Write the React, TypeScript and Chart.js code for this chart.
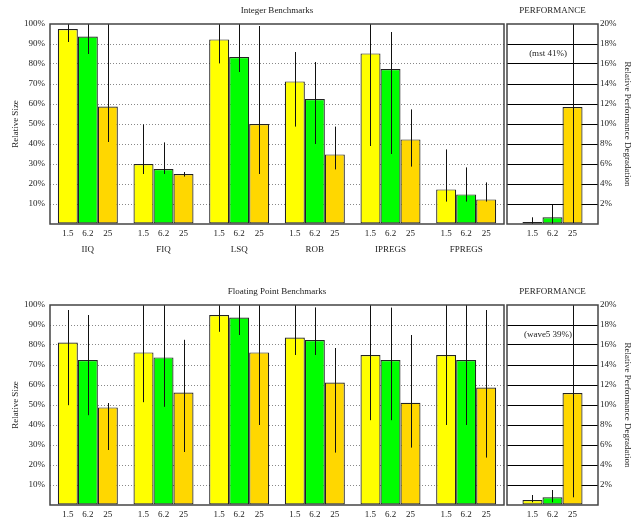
import React, { useEffect, useRef } from 'react';
import { Chart, registerables } from 'chart.js';

Chart.register(...registerables);

const FONT = "'Liberation Serif', 'Times New Roman', serif";

// ---------- data ----------
const groupLabels = ['IIQ', 'FIQ', 'LSQ', 'ROB', 'IPREGS', 'FPREGS'];
const sizeLabels = ['1.5', '6.2', '25'];
const barColors = ['#ffff00', '#00ff00', '#ffd700'];

// Integer benchmarks: relative size (%)
const intSize15 = [97.5, 30, 92.3, 71.3, 85.3, 17.3];
const intSize62 = [93.7, 27.5, 83.5, 62.5, 77.5, 14.8];
const intSize25 = [58.7, 25, 50, 34.8, 42.3, 12.3];
const intLow15 = [91, 25, 80.3, 48.7, 39, 11.2];
const intHigh15 = [105, 49.8, 105, 86, 105, 37.3];
const intLow62 = [85, 25, 76, 40, 35, 11.2];
const intHigh62 = [105, 40.8, 105, 81, 96, 28.3];
const intLow25 = [41, 23.7, 25, 27.3, 28.7, 11.2];
const intHigh25 = [105, 26, 99, 48.7, 57.3, 20.8];

// Integer performance degradation (%)
const intPerf = [0.2, 0.67, 11.7];
const intPerfLow = [0, 0, 0.1];
const intPerfHigh = [0.67, 1.9, 25];

// Floating point benchmarks: relative size (%)
const fpSize15 = [81.2, 76.3, 95, 83.7, 75, 75];
const fpSize62 = [72.5, 73.8, 93.7, 82.5, 72.5, 72.5];
const fpSize25 = [48.8, 56.2, 76.3, 61.2, 51.1, 58.7];
const fpLow15 = [49.9, 51.4, 86.6, 75, 42.4, 40];
const fpHigh15 = [97.5, 105, 105, 105, 105, 105];
const fpLow62 = [44.9, 49.1, 85, 75, 42.4, 40];
const fpHigh62 = [95, 105, 105, 98.8, 98.7, 105];
const fpLow25 = [27.5, 26.5, 40, 26.2, 28.7, 23.7];
const fpHigh25 = [51, 82.6, 105, 78.5, 85, 97.5];

// Floating point performance degradation (%)
const fpPerf = [0.5, 0.77, 11.2];
const fpPerfLow = [0.27, 0.27, 0.77];
const fpPerfHigh = [1.0, 1.5, 25];

const sizeTicks = [10, 20, 30, 40, 50, 60, 70, 80, 90, 100];
const perfTicks = [2, 4, 6, 8, 10, 12, 14, 16, 18, 20];

// ---------- plugins ----------
const panelPlugin = {
  id: 'panelDeco',
  afterDatasetsDraw(chart: any) {
    const { ctx, chartArea } = chart;
    const y = chart.scales.y;
    ctx.save();
    ctx.beginPath();
    ctx.rect(chartArea.left, chartArea.top, chartArea.right - chartArea.left, chartArea.bottom - chartArea.top);
    ctx.clip();
    ctx.strokeStyle = '#111';
    ctx.lineWidth = 1;
    chart.data.datasets.forEach((ds: any, i: number) => {
      const meta = chart.getDatasetMeta(i);
      meta.data.forEach((el: any, j: number) => {
        const x = Math.round(el.x) + 0.5;
        ctx.beginPath();
        ctx.moveTo(x, y.getPixelForValue(ds.errLow[j]));
        ctx.lineTo(x, y.getPixelForValue(ds.errHigh[j]));
        ctx.stroke();
      });
    });
    ctx.restore();
  },
  afterDraw(chart: any, _args: any, opts: any) {
    const { ctx, chartArea } = chart;
    ctx.save();
    // panel border
    ctx.strokeStyle = '#444';
    ctx.lineWidth = 1.5;
    ctx.strokeRect(chartArea.left, chartArea.top, chartArea.right - chartArea.left, chartArea.bottom - chartArea.top);
    ctx.fillStyle = '#222';
    ctx.font = `9px ${FONT}`;
    ctx.textAlign = 'center';
    ctx.textBaseline = 'middle';
    // title
    ctx.fillText(opts.title, (chartArea.left + chartArea.right) / 2, chartArea.top - 13);
    // per-bar labels
    chart.data.datasets.forEach((ds: any, i: number) => {
      const meta = chart.getDatasetMeta(i);
      meta.data.forEach((el: any) => {
        ctx.fillText(ds.label, el.x, chartArea.bottom + 10);
      });
    });
    if (opts.note) {
      const y = chart.scales.y;
      ctx.fillText(opts.note, chartArea.left + 41, y.getPixelForValue(opts.noteValue));
    }
    ctx.restore();
  },
};

function sizeConfig(title: string, s: number[][], lo: number[][], hi: number[][]): any {
  return {
    type: 'bar',
    data: {
      labels: groupLabels,
      datasets: sizeLabels.map((lab, i) => ({
        label: lab,
        data: s[i],
        errLow: lo[i],
        errHigh: hi[i],
        backgroundColor: barColors[i],
        borderColor: '#222',
        borderWidth: 1.2,
        borderSkipped: false,
        categoryPercentage: 0.793,
        barPercentage: 1,
      })),
    },
    options: {
      responsive: false,
      maintainAspectRatio: false,
      animation: false,
      events: [],
      layout: { padding: { top: 24, right: 2, left: 0, bottom: 0 } },
      plugins: {
        legend: { display: false },
        tooltip: { enabled: false },
        panelDeco: { title },
      },
      scales: {
        x: {
          grid: { display: false },
          border: { display: false },
          ticks: { padding: 12, color: '#222', font: { size: 9, family: FONT } },
          afterFit: (sc: any) => { sc.height = 36; },
        },
        y: {
          min: 0,
          max: 100,
          afterBuildTicks: (sc: any) => { sc.ticks = [0, ...sizeTicks].map((v) => ({ value: v })); },
          ticks: {
            padding: 5,
            color: '#222',
            font: { size: 9, family: FONT },
            callback: (v: any) => (v === 0 ? '' : v + '%'),
          },
          grid: {
            drawTicks: false,
            color: (c: any) => (c.tick && (c.tick.value === 0 || c.tick.value === 100) ? 'rgba(0,0,0,0)' : '#888'),
            lineWidth: 1,
          },
          border: { display: false, dash: [1, 2] },
          title: {
            display: true,
            text: 'Relative Size',
            color: '#222',
            font: { size: 9, family: FONT },
            padding: { top: 10, bottom: 0 },
          },
          afterFit: (sc: any) => { sc.width = 50; },
        },
      },
    },
  };
}

function perfConfig(title: string, note: string, v: number[], lo: number[], hi: number[]): any {
  return {
    type: 'bar',
    data: {
      labels: [''],
      datasets: sizeLabels.map((lab, i) => ({
        label: lab,
        data: [v[i]],
        errLow: [lo[i]],
        errHigh: [hi[i]],
        backgroundColor: barColors[i],
        borderColor: '#222',
        borderWidth: 1.2,
        borderSkipped: false,
        categoryPercentage: 0.66,
        barPercentage: 1,
      })),
    },
    options: {
      responsive: false,
      maintainAspectRatio: false,
      animation: false,
      events: [],
      layout: { padding: { top: 24, right: 0, left: 2, bottom: 0 } },
      plugins: {
        legend: { display: false },
        tooltip: { enabled: false },
        panelDeco: { title, note, noteValue: 17 },
      },
      scales: {
        x: {
          grid: { display: false },
          border: { display: false },
          ticks: { display: false },
          afterFit: (sc: any) => { sc.height = 36; },
        },
        y: {
          position: 'right',
          min: 0,
          max: 20,
          afterBuildTicks: (sc: any) => { sc.ticks = [0, ...perfTicks].map((t) => ({ value: t })); },
          ticks: {
            padding: 2,
            color: '#222',
            font: { size: 9, family: FONT },
            callback: (t: any) => (t === 0 ? '' : t + '%'),
          },
          grid: {
            drawTicks: false,
            color: (c: any) => (c.tick && (c.tick.value === 0 || c.tick.value === 20) ? 'rgba(0,0,0,0)' : '#000'),
            lineWidth: 1,
          },
          border: { display: false },
          title: {
            display: true,
            text: 'Relative Performance Degradation',
            color: '#222',
            font: { size: 9, family: FONT },
            padding: { top: 3, bottom: 0 },
          },
          afterFit: (sc: any) => { sc.width = 38; },
        },
      },
    },
  };
}

function ChartCanvas({ config, left, top, width, height }: any) {
  const ref = useRef<HTMLCanvasElement | null>(null);
  useEffect(() => {
    if (!ref.current) return;
    const chart = new Chart(ref.current, { ...config, plugins: [panelPlugin] });
    return () => chart.destroy();
  }, []);
  return (
    <canvas
      ref={ref}
      width={width}
      height={height}
      style={{ position: 'absolute', left, top, width, height }}
    />
  );
}

export default function App() {
  const intCfg = sizeConfig('Integer Benchmarks', [intSize15, intSize62, intSize25], [intLow15, intLow62, intLow25], [intHigh15, intHigh62, intHigh25]);
  const fpCfg = sizeConfig('Floating Point Benchmarks', [fpSize15, fpSize62, fpSize25], [fpLow15, fpLow62, fpLow25], [fpHigh15, fpHigh62, fpHigh25]);
  const intPerfCfg = perfConfig('PERFORMANCE', '(mst 41%)', intPerf, intPerfLow, intPerfHigh);
  const fpPerfCfg = perfConfig('PERFORMANCE', '(wave5 39%)', fpPerf, fpPerfLow, fpPerfHigh);
  return (
    <div
      style={{
        position: 'absolute',
        left: 0,
        top: 0,
        width: 636,
        height: 527,
        overflow: 'hidden',
        background: '#fff',
      }}
    >
      <ChartCanvas config={intCfg} left={0} top={0} width={506} height={260} />
      <ChartCanvas config={intPerfCfg} left={505} top={0} width={131} height={260} />
      <ChartCanvas config={fpCfg} left={0} top={281} width={506} height={260} />
      <ChartCanvas config={fpPerfCfg} left={505} top={281} width={131} height={260} />
    </div>
  );
}
